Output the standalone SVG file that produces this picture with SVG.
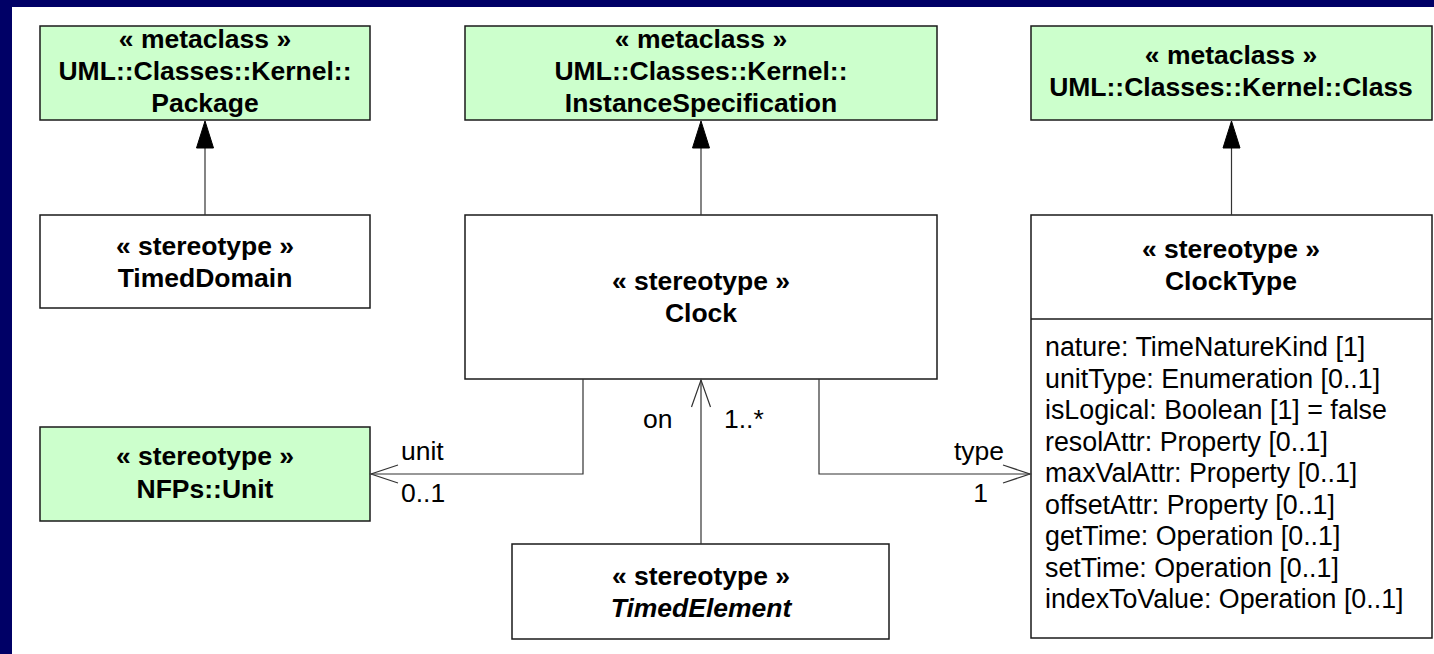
<svg xmlns="http://www.w3.org/2000/svg" width="1434" height="654" viewBox="0 0 1434 654">
  <style>
    .box { stroke: #1a1a1a; stroke-width: 1.5; }
    .meta { fill: #ccffcc; }
    .plain { fill: #ffffff; }
    .t { font-family: "Liberation Sans", Arial, sans-serif; font-size: 26.5px; fill: #000; }
    .b { font-weight: bold; text-anchor: middle; }
    .i { font-style: italic; }
    .attr { text-anchor: start; font-size: 26.8px; }
    .conn { fill: none; stroke: #333; stroke-width: 1.2; }
    .head { fill: #000; stroke: #000; stroke-width: 1; }
    .open { fill: none; stroke: #333; stroke-width: 1.2; }
  </style>

  <!-- frame -->
  <rect x="0" y="0" width="1434" height="654" fill="#ffffff"/>
  <rect x="0" y="0" width="1434" height="7" fill="#000066"/>
  <rect x="0" y="0" width="12" height="654" fill="#000066"/>

  <g id="pkg">
    <rect class="box meta" x="40" y="26" width="330" height="94"/>
    <text class="t b" x="205" y="48">« metaclass »</text>
    <text class="t b" x="205" y="80">UML::Classes::Kernel::</text>
    <text class="t b" x="205" y="112">Package</text>
  </g>

  <g id="instspec">
    <rect class="box meta" x="465" y="26" width="472" height="94"/>
    <text class="t b" x="701" y="48">« metaclass »</text>
    <text class="t b" x="701" y="80">UML::Classes::Kernel::</text>
    <text class="t b" x="701" y="112">InstanceSpecification</text>
  </g>

  <g id="umlclass">
    <rect class="box meta" x="1031" y="26" width="401" height="94"/>
    <text class="t b" x="1231" y="64">« metaclass »</text>
    <text class="t b" x="1231" y="96">UML::Classes::Kernel::Class</text>
  </g>

  <g id="timeddomain">
    <rect class="box plain" x="40" y="215" width="330" height="93"/>
    <text class="t b" x="205" y="255">« stereotype »</text>
    <text class="t b" x="205" y="287">TimedDomain</text>
  </g>

  <g id="clock">
    <rect class="box plain" x="465" y="215" width="472" height="164"/>
    <text class="t b" x="701" y="290">« stereotype »</text>
    <text class="t b" x="701" y="322">Clock</text>
  </g>

  <g id="clocktype">
    <rect class="box plain" x="1031" y="215" width="401" height="423"/>
    <line class="box" x1="1031" y1="319" x2="1432" y2="319"/>
    <text class="t b" x="1231" y="258">« stereotype »</text>
    <text class="t b" x="1231" y="290">ClockType</text>
    <text class="t attr" x="1045" y="356">nature: TimeNatureKind [1]</text>
    <text class="t attr" x="1045" y="387.5">unitType: Enumeration [0..1]</text>
    <text class="t attr" x="1045" y="419">isLogical: Boolean [1] = false</text>
    <text class="t attr" x="1045" y="450.5">resolAttr: Property [0..1]</text>
    <text class="t attr" x="1045" y="482">maxValAttr: Property [0..1]</text>
    <text class="t attr" x="1045" y="513.5">offsetAttr: Property [0..1]</text>
    <text class="t attr" x="1045" y="545">getTime: Operation [0..1]</text>
    <text class="t attr" x="1045" y="576.5">setTime: Operation [0..1]</text>
    <text class="t attr" x="1045" y="608">indexToValue: Operation [0..1]</text>
  </g>

  <g id="nfpunit">
    <rect class="box meta" x="40" y="427" width="330" height="94"/>
    <text class="t b" x="205" y="465">« stereotype »</text>
    <text class="t b" x="205" y="498">NFPs::Unit</text>
  </g>

  <g id="timedelement">
    <rect class="box plain" x="512" y="544" width="377" height="95"/>
    <text class="t b" x="701" y="585">« stereotype »</text>
    <text class="t b i" x="701" y="617">TimedElement</text>
  </g>

  <g id="connectors">
    <!-- extensions to metaclasses -->
    <line class="conn" x1="205" y1="148" x2="205" y2="215"/>
    <polygon class="head" points="205,121 196.5,148 213.5,148"/>
    <line class="conn" x1="701" y1="148" x2="701" y2="215"/>
    <polygon class="head" points="701,121 692.5,148 709.5,148"/>
    <line class="conn" x1="1231.5" y1="148" x2="1231.5" y2="215"/>
    <polygon class="head" points="1231.5,121 1223,148 1240,148"/>

    <!-- on -->
    <line class="conn" x1="701" y1="544" x2="701" y2="380"/>
    <polyline class="open" points="691.5,407 701,380 710.5,407"/>
    <text class="t" x="643" y="428">on</text>
    <text class="t" x="724" y="428">1..*</text>

    <!-- unit -->
    <polyline class="conn" points="583,379 583,474 371,474"/>
    <polyline class="open" points="398,465 371,474 398,483"/>
    <text class="t" x="401" y="460">unit</text>
    <text class="t" x="401" y="502">0..1</text>

    <!-- type -->
    <polyline class="conn" points="819,379 819,474 1030,474"/>
    <polyline class="open" points="1003,465 1030,474 1003,483"/>
    <text class="t" x="1004" y="460" text-anchor="end">type</text>
    <text class="t" x="988" y="502" text-anchor="end">1</text>
  </g>
</svg>
